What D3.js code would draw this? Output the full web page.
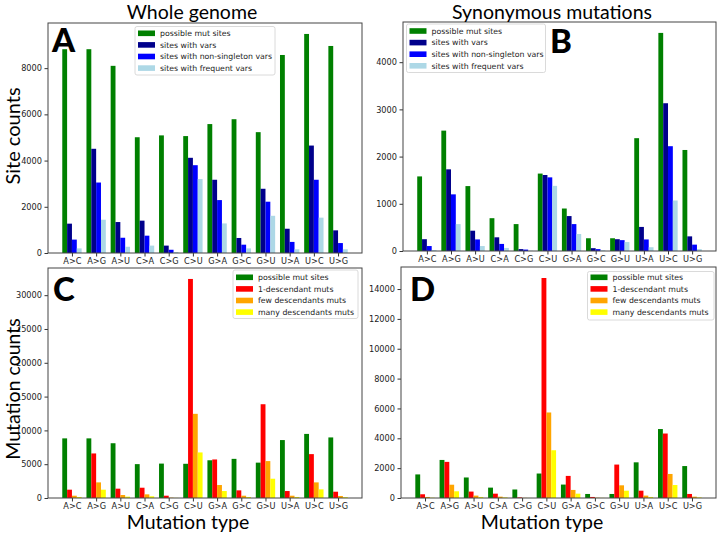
<!DOCTYPE html>
<html><head><meta charset="utf-8">
<script src="https://cdn.jsdelivr.net/npm/d3@7"></script>
<style>body{margin:0;background:#fff} svg{display:block}</style>
</head><body><svg id="c" width="720" height="533"></svg>
<script>
const categories = ["A>C","A>G","A>U","C>A","C>G","C>U","G>A","G>C","G>U","U>A","U>C","U>G"];
// Panel A: whole genome site counts
const possibleMutSites = [8820,8820,8100,5010,5090,5060,5580,5790,5230,8570,9480,8960];
const sitesWithVars = [1270,4510,1340,1400,320,4120,3170,650,2780,1050,4650,980];
const sitesNonSingleton = [580,3050,660,750,140,3800,2290,360,2220,480,3170,430];
const sitesFrequent = [200,1440,270,320,40,3200,1280,200,1610,160,1530,160];
// Panel B: synonymous site counts
const synPossibleMutSites = [1580,2550,1375,695,570,1640,900,270,270,2390,4620,2140];
const synSitesWithVars = [250,1730,430,290,40,1610,740,60,250,510,3130,310];
const synSitesNonSingleton = [105,1200,245,150,30,1560,570,40,230,245,2220,135];
const synSitesFrequent = [20,570,105,65,5,1380,360,15,190,80,1070,40];
// Panel C: whole genome mutation counts
const oneDescMuts = [1230,6590,1380,1520,340,32400,5700,1130,13870,1030,6490,930];
const fewDescMuts = [340,2310,440,540,50,12450,1920,340,5460,340,2310,300];
const manyDescMuts = [150,1230,200,250,20,6740,1030,150,2850,150,1280,120];
// Panel D: synonymous mutation counts
const synOneDescMuts = [250,2420,430,290,40,14740,1480,70,2240,490,4320,270];
const synFewDescMuts = [70,890,160,90,10,5730,540,20,850,160,1610,90];
const synManyDescMuts = [20,450,70,40,5,3200,290,10,490,70,870,40];

const yTicksA = [0,2000,4000,6000,8000];
const yTicksB = [0,1000,2000,3000,4000];
const yTicksC = [0,5000,10000,15000,20000,25000,30000];
const yTicksD = [0,2000,4000,6000,8000,10000,12000,14000];

const siteLabels = ["possible mut sites","sites with vars","sites with non-singleton vars","sites with frequent vars"];
const siteColors = ["#008000","#00008b","#0000ff","#add8e6"];
const mutLabels = ["possible mut sites","1-descendant muts","few descendants muts","many descendants muts"];
const mutColors = ["#008000","#ff0000","#ffa500","#ffff00"];

const svg = d3.select("#c");
const tickFont = "DejaVu Sans, sans-serif";
const bigFont = "Lato, 'Open Sans', sans-serif";

const panels = [
  {series:[possibleMutSites,sitesWithVars,sitesNonSingleton,sitesFrequent], colors:siteColors, labels:siteLabels, ticks:yTicksA,
   x0:48,x1:362,y0:23,y1:253, letter:"A", lx:52, ly:52, leg:{x:135,y:26.5,w:140,row0:33.3}},
  {series:[synPossibleMutSites,synSitesWithVars,synSitesNonSingleton,synSitesFrequent], colors:siteColors, labels:siteLabels, ticks:yTicksB,
   x0:403,x1:716,y0:22,y1:251, letter:"B", lx:550, ly:53, leg:{x:406.5,y:24,w:139,row0:31}},
  {series:[possibleMutSites,oneDescMuts,fewDescMuts,manyDescMuts], colors:mutColors, labels:mutLabels, ticks:yTicksC,
   x0:48,x1:362,y0:268,y1:498, letter:"C", lx:53, ly:301, leg:{x:233,y:270,w:125,row0:277.3}},
  {series:[synPossibleMutSites,synOneDescMuts,synFewDescMuts,synManyDescMuts], colors:mutColors, labels:mutLabels, ticks:yTicksD,
   x0:401,x1:716,y0:267,y1:498, letter:"D", lx:410, ly:301, leg:{x:587.5,y:271.5,w:126.5,row0:277.3}}
];

panels.forEach(p => {
  const g = svg.append("g");
  const x = d3.scaleLinear().domain([-0.99, 11.99]).range([p.x0, p.x1]);
  const ymax = d3.max(p.series.flat()) * 1.05;
  const y = d3.scaleLinear().domain([0, ymax]).range([p.y1, p.y0]);
  const bw = 0.2;
  p.series.forEach((s, j) => {
    g.append("g").selectAll("rect").data(s).join("rect")
      .attr("x", (d,i) => x(i + (j - 2) * bw))
      .attr("width", x(bw) - x(0))
      .attr("y", d => y(d))
      .attr("height", d => y(0) - y(d))
      .attr("fill", p.colors[j]);
  });
  // axes
  const ya = g.append("g").attr("transform", `translate(${p.x0},0)`)
    .call(d3.axisLeft(y).tickValues(p.ticks).tickFormat(d3.format("d")).tickSize(3.5).tickPadding(2.5));
  const xa = g.append("g").attr("transform", `translate(0,${p.y1})`)
    .call(d3.axisBottom(x).tickValues(d3.range(categories.length)).tickFormat(i => categories[i]).tickSize(3.5).tickPadding(1.5));
  [ya, xa].forEach(a => {
    a.select(".domain").remove();
    a.selectAll("line").attr("stroke", "#333");
    a.selectAll("text").attr("font-family", tickFont).attr("font-size", 8.2).attr("fill", "#222");
  });
  g.append("rect").attr("x", p.x0).attr("y", p.y0).attr("width", p.x1 - p.x0).attr("height", p.y1 - p.y0)
    .attr("fill", "none").attr("stroke", "#444").attr("stroke-width", 1);
  // legend
  const L = p.leg;
  const lg = g.append("g");
  lg.append("rect").attr("x", L.x).attr("y", L.y).attr("width", L.w).attr("height", 48.5)
    .attr("rx", 2).attr("fill", "#fff").attr("fill-opacity", 0.8).attr("stroke", "#d0d0d0").attr("stroke-width", 0.8);
  p.labels.forEach((lab, j) => {
    const cy = L.row0 + j * 11.6;
    lg.append("rect").attr("x", L.x + 3).attr("y", cy - 2.8).attr("width", 17).attr("height", 5.6).attr("fill", p.colors[j]);
    lg.append("text").attr("x", L.x + 25).attr("y", cy).attr("dy", "0.35em")
      .attr("font-family", tickFont).attr("font-size", 7.8).attr("fill", "#222").text(lab);
  });
  // panel letter
  g.append("text").attr("x", p.lx).attr("y", p.ly).attr("font-family", bigFont).attr("font-weight", 900)
    .attr("font-size", 33).attr("fill", "#000").text(p.letter);
});

// titles and axis labels
svg.append("text").attr("x", 192).attr("y", 19).attr("text-anchor", "middle").attr("font-family", bigFont)
  .attr("font-size", 19.5).text("Whole genome");
svg.append("text").attr("x", 552).attr("y", 19).attr("text-anchor", "middle").attr("font-family", bigFont)
  .attr("font-size", 19.5).text("Synonymous mutations");
svg.append("text").attr("transform", "translate(20,136) rotate(-90)").attr("text-anchor", "middle")
  .attr("font-family", bigFont).attr("font-size", 20).text("Site counts");
svg.append("text").attr("transform", "translate(20,389) rotate(-90)").attr("text-anchor", "middle")
  .attr("font-family", bigFont).attr("font-size", 19.5).text("Mutation counts");
svg.append("text").attr("x", 188).attr("y", 528.5).attr("text-anchor", "middle").attr("font-family", bigFont)
  .attr("font-size", 19.5).text("Mutation type");
svg.append("text").attr("x", 542).attr("y", 528.5).attr("text-anchor", "middle").attr("font-family", bigFont)
  .attr("font-size", 19.5).text("Mutation type");
</script></body></html>
